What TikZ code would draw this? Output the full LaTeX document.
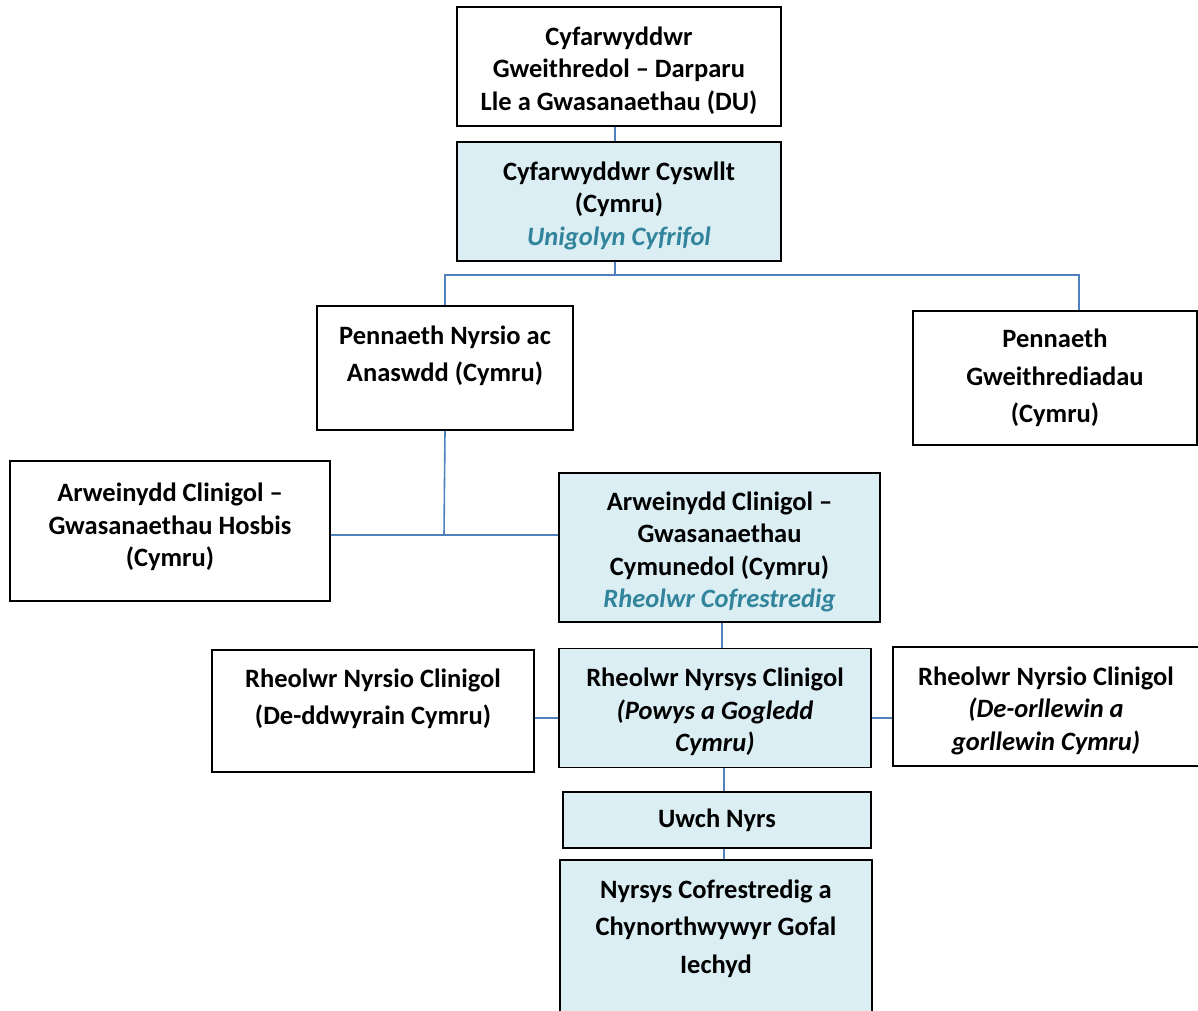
\documentclass[tikz,border=0pt]{standalone}
\usepackage{fontspec}
\setmainfont{Carlito}
\usetikzlibrary{positioning,calc}
\definecolor{paleblue}{HTML}{DAEEF3}
\definecolor{linkblue}{HTML}{4F81BD}
\definecolor{tealtext}{HTML}{31849B}
\newcommand{\topgap}{\rule{0pt}{27pt}}

\begin{document}
\begin{tikzpicture}[x=1pt,y=-1pt,
	box/.style={draw=black, line width=1.6pt, align=center, inner sep=0pt,
		font=\fontsize{26.5}{32.5}\selectfont\bfseries},
	wide/.style={font=\fontsize{26.5}{37.5}\selectfont\bfseries},
	bluebox/.style={box, fill=paleblue},
	link/.style={draw=linkblue, line width=1.6pt}]
	 \useasboundingbox (0,0) rectangle (1198,1010);
	 \begin{scope}
		% top of the chart
		\draw (619,66.5) node[box, minimum width=324pt, minimum height=119pt](dirDU)
					{\topgap Cyfarwyddwr\\Gweithredol -- Darparu\\Lle a Gwasanaethau (DU)};
		\draw (619,201.5) node[bluebox, minimum width=324pt, minimum height=119pt](dirCymru)
					{\topgap Cyfarwyddwr Cyswllt\\(Cymru)\\\textcolor{tealtext}{\itshape Unigolyn Cyfrifol}};

		% heads
		\draw (445,368) node[box, wide, minimum width=256pt, minimum height=124pt](headNurse)
					{\topgap Pennaeth Nyrsio ac\\Anaswdd (Cymru)\\~};
		\draw (1055,378) node[box, wide, minimum width=284pt, minimum height=134pt](headOps)
					{Pennaeth\\Gweithrediadau\\(Cymru)};

		% clinical leads
		\draw (170,531) node[box, minimum width=320pt, minimum height=140pt](leadHospice)
					{Arweinydd Clinigol --\\Gwasanaethau Hosbis\\(Cymru)\\[-20pt]~};
		\draw (719.5,547.5) node[bluebox, minimum width=321pt, minimum height=149pt](leadCommunity)
					{\topgap Arweinydd Clinigol --\\Gwasanaethau\\Cymunedol (Cymru)\\\textcolor{tealtext}{\itshape Rheolwr Cofrestredig}};

		% clinical nurse managers
		\draw (373,711) node[box, wide, minimum width=322pt, minimum height=122pt](mgrSE)
					{\topgap Rheolwr Nyrsio Clinigol\\(De-ddwyrain Cymru)\\~};
		\draw (715,708) node[bluebox, minimum width=312pt, minimum height=119pt](mgrPowys)
					{\topgap Rheolwr Nyrsys Clinigol\\{\itshape(Powys a Gogledd}\\{\itshape Cymru)}};
		\draw (1046,706.5) node[box, minimum width=306pt, minimum height=119pt](mgrSW)
					{\topgap Rheolwr Nyrsio Clinigol\\{\itshape(De-orllewin a}\\{\itshape gorllewin Cymru)}};

		% nurses
		\draw (717,820) node[bluebox, minimum width=308pt, minimum height=56pt](senior)
					{Uwch Nyrs};
		\draw (716,945) node[bluebox, wide, minimum width=312pt, minimum height=170pt](nurses)
					{Nyrsys Cofrestredig a\\Chynorthwywyr Gofal\\Iechyd\\~};

		% connectors
		\coordinate (split) at (615,275);
		\coordinate (join) at (444,535);
		\coordinate (row) at (715,718);
		\draw[link] ([xshift=-4pt]dirDU.south) -- ([xshift=-4pt]dirCymru.north);
		\draw[link] ([xshift=-4pt]dirCymru.south) -- (split);
		\draw[link] (split) -| (headNurse.north);
		\draw[link] (split) -| ([xshift=24pt]headOps.north);
		\draw[link] (headNurse.south) -- (join);
		\draw[link] (leadHospice.east |- join) -- (leadCommunity.west |- join);
		\draw[link] ([xshift=2.5pt]leadCommunity.south) -- ([xshift=2.5pt]leadCommunity.south |- mgrPowys.north);
		\draw[link] (mgrSE.east |- row) -- (mgrPowys.west |- row);
		\draw[link] (mgrPowys.east |- row) -- (mgrSW.west |- row);
		\draw[link] ([xshift=9pt]mgrPowys.south) -- ([xshift=7pt]senior.north);
		\draw[link] ([xshift=7pt]senior.south) -- ([xshift=8pt]nurses.north);
	 \end{scope}
\end{tikzpicture}
\end{document}
